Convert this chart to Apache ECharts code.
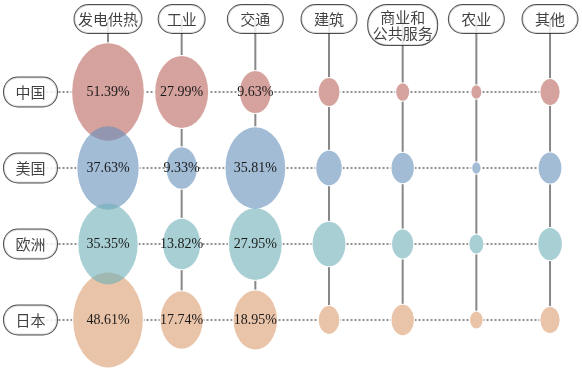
<!DOCTYPE html>
<html>
<head>
<meta charset="utf-8">
<script src="https://cdn.jsdelivr.net/npm/echarts@6/dist/echarts.min.js"></script>
<style>
html,body{margin:0;padding:0;background:#fff;}
#chart{width:582px;height:374px;}
</style>
</head>
<body>
<div id="chart"></div>
<script>
// ---- data ----
const sectors = ['发电供热', '工业', '交通', '建筑', '商业和\n公共服务', '农业', '其他'];
const countries = ['中国', '美国', '欧洲', '日本'];
const china  = [51.39, 27.99, 9.63, 4.3, 1.7, 1.0, 3.7];
const usa    = [37.63, 9.33, 35.81, 6.5, 5.0, 0.7, 5.2];
const europe = [35.35, 13.82, 27.95, 10.8, 4.5, 2.0, 5.6];
const japan  = [48.61, 17.74, 18.95, 4.2, 5.0, 1.6, 3.7];
const labelledColumns = 3; // values printed for the first three sectors

// ---- layout / style ----
const W = 582, H = 374;
const col0 = 108, colStep = 73.67;   // pixel position of first column, spacing
const row0 = 92, rowStep = 76;       // pixel position of first row, spacing
const colors = ['rgba(187,100,93,0.6)', 'rgba(100,143,187,0.6)', 'rgba(110,177,183,0.6)', 'rgba(218,157,110,0.6)'];
const sizeX = 10, sizeY = 13.6;      // ellipse size per sqrt(percent)
const serif = '"Liberation Serif", "Times New Roman", "Noto Sans CJK SC", serif';
const cjk = '"Noto Sans CJK SC", sans-serif';
const headerBoxW = {'发电供热': 67, '工业': 46, '商业和\n公共服务': 69};

const seriesValues = [china, usa, europe, japan];

const xMin = -col0 / colStep, xMax = (W - col0) / colStep;
const yMin = -row0 / rowStep, yMax = (H - row0) / rowStep;
const headerTop = (5 - row0) / rowStep;
const headerLineStart = (19 - row0) / rowStep;
const rowLabelX = (30.5 - col0) / colStep;

const series = [];

// horizontal dotted guide lines (behind)
countries.forEach((c, r) => {
  series.push({
    type: 'line', z: 1, silent: true, symbol: 'none', clip: false,
    data: [[rowLabelX, r], [sectors.length - 1, r]],
    lineStyle: {color: '#222', width: 1, type: [2, 2]}
  });
});
// vertical gray lines
sectors.forEach((s, i) => {
  series.push({
    type: 'line', z: 1, silent: true, symbol: 'none', clip: false,
    data: [[i, headerLineStart], [i, countries.length - 1]],
    lineStyle: {color: '#888', width: 2}
  });
});

// white underlay so lines don't show through bubbles
const under = [];
seriesValues.forEach((vals, r) => vals.forEach((v, i) => under.push([i, r, v])));
series.push({
  type: 'scatter', z: 2, silent: true,
  data: under,
  symbolSize: d => [sizeX * Math.sqrt(d[2]) + 2, sizeY * Math.sqrt(d[2]) + 2],
  itemStyle: {color: '#fff', opacity: 1}
});

// colored bubbles; drawing order so US is above China and Europe above Japan
[0, 3, 1, 2].forEach((r, k) => {
  series.push({
    type: 'scatter', z: 3 + k, silent: true,
    data: seriesValues[r].map((v, i) => [i, r, v]),
    symbolSize: d => [sizeX * Math.sqrt(d[2]), sizeY * Math.sqrt(d[2])],
    itemStyle: {color: colors[r], opacity: 1},
    label: {
      show: true, position: 'inside',
      formatter: p => p.data[0] < labelledColumns ? p.data[2].toFixed(2) + '%' : '',
      fontFamily: serif, fontSize: 14, color: '#1a1a1a'
    }
  });
});

// header boxes (sectors)
series.push({
  type: 'scatter', z: 20, silent: true, symbolSize: 0,
  data: sectors.map((s, i) => {
    const lines = s.split('\n');
    const maxChars = Math.max(...lines.map(l => l.length));
    const textW = maxChars * 15;
    const boxW = headerBoxW[s] || 55;
    const padX = Math.max(1, (boxW - textW) / 2);
    const padY = lines.length > 1 ? 4 : 6;
    return {
      value: [i, headerTop],
      label: {
        show: true, position: 'bottom', distance: 0, formatter: s,
        fontFamily: cjk, fontSize: 15, lineHeight: 16, color: '#111',
        backgroundColor: '#fff', borderColor: '#222', borderWidth: 1,
        borderRadius: lines.length > 1 ? 19 : 14, padding: [padY, padX]
      }
    };
  })
});

// row label boxes (countries)
series.push({
  type: 'scatter', z: 20, silent: true, symbolSize: 0,
  data: countries.map((c, r) => ({
    value: [rowLabelX, r],
    label: {
      show: true, position: 'inside', formatter: c,
      fontFamily: cjk, fontSize: 15, lineHeight: 16, color: '#111',
      backgroundColor: '#fff', borderColor: '#222', borderWidth: 1,
      borderRadius: 14, padding: [6.5, 11.5]
    }
  }))
});

const chart = echarts.init(document.getElementById('chart'), null, {renderer: 'canvas'});
chart.setOption({
  animation: false,
  backgroundColor: '#fff',
  grid: {left: 0, right: 0, top: 0, bottom: 0},
  xAxis: {type: 'value', min: xMin, max: xMax, show: false},
  yAxis: {type: 'value', min: yMin, max: yMax, inverse: true, show: false},
  series: series
});
</script>
</body>
</html>
